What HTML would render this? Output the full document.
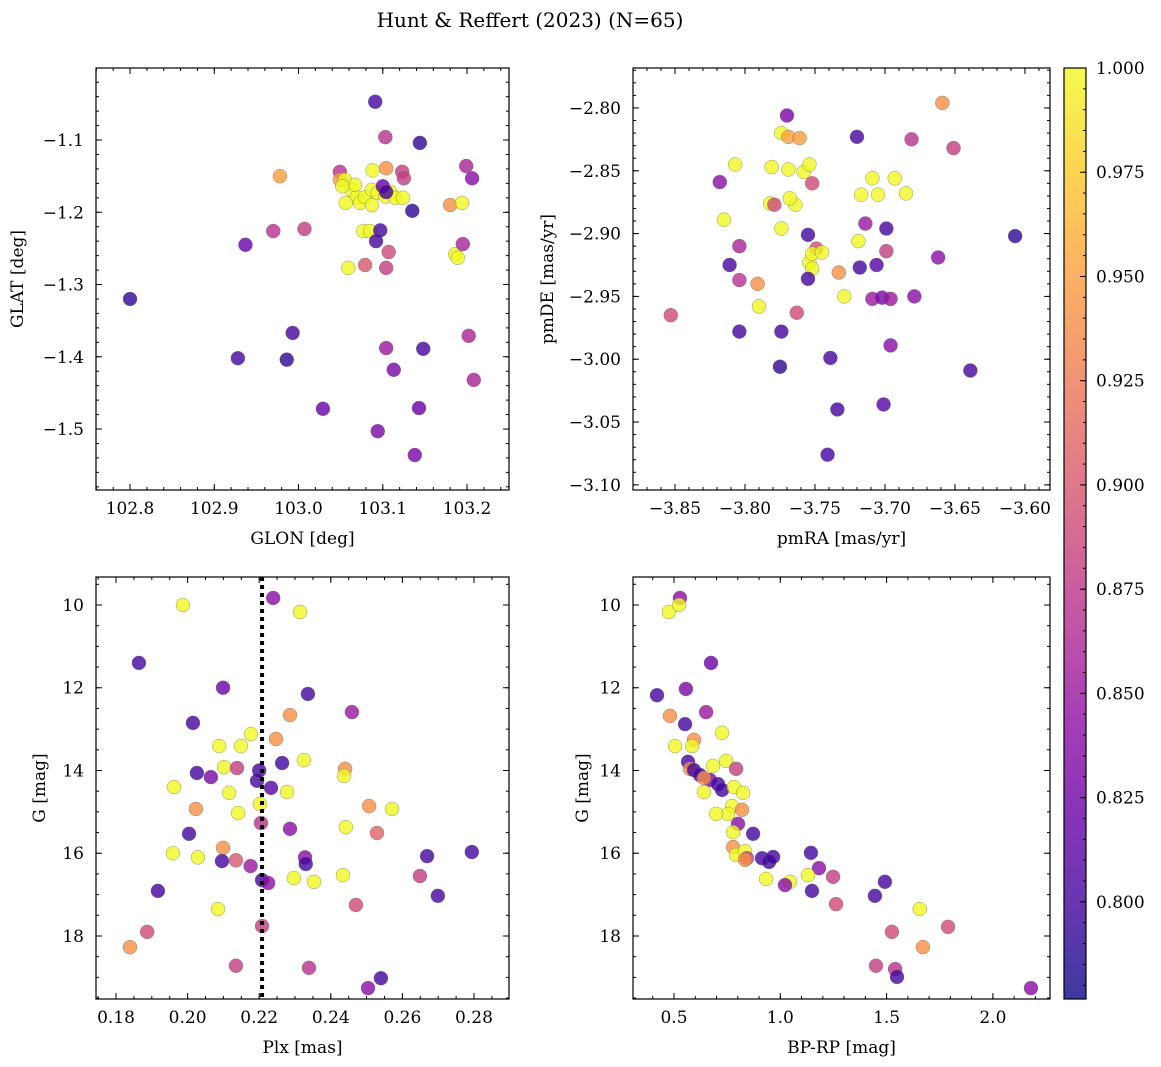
<!DOCTYPE html>
<html><head><meta charset="utf-8"><style>
body{margin:0;background:#fff}
svg{display:block;font-family:"DejaVu Serif","Liberation Serif",serif}
</style></head><body>
<svg id="fig" width="1161" height="1067" viewBox="0 0 1161 1067" xmlns="http://www.w3.org/2000/svg">
<defs>
<linearGradient id="plasmaGrad" x1="0" y1="1" x2="0" y2="0">
<stop offset="0" stop-color="#0d0887"/><stop offset="0.1" stop-color="#41049d"/><stop offset="0.2" stop-color="#6a00a8"/><stop offset="0.3" stop-color="#8f0da4"/><stop offset="0.4" stop-color="#b12a90"/><stop offset="0.5" stop-color="#cc4778"/><stop offset="0.6" stop-color="#e16462"/><stop offset="0.7" stop-color="#f2844b"/><stop offset="0.8" stop-color="#fca636"/><stop offset="0.9" stop-color="#fcce25"/><stop offset="1" stop-color="#f0f921"/>
</linearGradient>
</defs>
<text x="530" y="27" font-size="20" text-anchor="middle">Hunt &amp; Reffert (2023) (N=65)</text>
</svg>
<script>
// ---- data ----
const glon=[103.091,103.103,103.144,103.199,103.206,102.978,103.049,103.123,103.125,103.104,103.088,103.049,103.055,103.063,103.069,103.067,103.073,103.079,103.087,103.087,103.094,103.103,103.109,103.115,103.124,103.052,103.056,103.077,103.059,103.085,103.097,103.092,103.135,103.100,103.104,103.180,103.186,103.189,103.194,103.079,103.107,103.104,103.195,103.007,102.937,102.970,102.800,102.993,102.928,102.986,103.104,103.148,103.113,103.202,103.208,103.029,103.094,103.143,103.138];
const glat=[-1.047,-1.096,-1.104,-1.136,-1.153,-1.150,-1.144,-1.144,-1.153,-1.139,-1.142,-1.155,-1.155,-1.169,-1.179,-1.162,-1.187,-1.179,-1.169,-1.190,-1.173,-1.178,-1.172,-1.180,-1.180,-1.164,-1.187,-1.226,-1.277,-1.226,-1.225,-1.240,-1.198,-1.164,-1.172,-1.190,-1.258,-1.263,-1.187,-1.273,-1.255,-1.277,-1.244,-1.223,-1.245,-1.226,-1.320,-1.367,-1.402,-1.404,-1.388,-1.389,-1.418,-1.371,-1.432,-1.472,-1.503,-1.471,-1.536];
const probA=[.80,.87,.79,.86,.84,.95,.87,.88,.88,.94,1,.95,1,1,1,1,1,1,1,1,1,1,1,1,1,1,1,1,1,1,.80,.80,.79,.82,.80,.94,1,1,1,.90,.89,.88,.86,.88,.82,.87,.79,.80,.80,.79,.85,.80,.83,.86,.86,.82,.83,.82,.83];

const pmra=[-3.770,-3.659,-3.651,-3.681,-3.720,-3.774,-3.769,-3.761,-3.807,-3.781,-3.769,-3.758,-3.754,-3.752,-3.818,-3.709,-3.693,-3.685,-3.705,-3.717,-3.782,-3.779,-3.764,-3.768,-3.815,-3.774,-3.714,-3.699,-3.719,-3.804,-3.749,-3.699,-3.755,-3.607,-3.662,-3.754,-3.752,-3.745,-3.752,-3.811,-3.706,-3.718,-3.733,-3.791,-3.804,-3.755,-3.729,-3.709,-3.702,-3.696,-3.679,-3.790,-3.763,-3.853,-3.804,-3.774,-3.696,-3.739,-3.775,-3.639,-3.734,-3.701,-3.741];
const pmde=[-2.806,-2.796,-2.832,-2.825,-2.823,-2.820,-2.823,-2.824,-2.845,-2.847,-2.849,-2.851,-2.845,-2.860,-2.859,-2.856,-2.856,-2.868,-2.869,-2.869,-2.876,-2.877,-2.877,-2.872,-2.889,-2.896,-2.892,-2.896,-2.906,-2.910,-2.912,-2.914,-2.901,-2.902,-2.919,-2.923,-2.916,-2.915,-2.928,-2.925,-2.925,-2.927,-2.931,-2.940,-2.937,-2.936,-2.950,-2.952,-2.951,-2.952,-2.950,-2.958,-2.963,-2.965,-2.978,-2.978,-2.989,-2.999,-3.006,-3.009,-3.040,-3.036,-3.076];
const probB=[.83,.94,.88,.87,.80,1,.95,.95,1,1,1,1,1,.89,.84,1,1,1,1,1,1,.89,1,1,1,1,.85,.80,1,.86,.89,.88,.80,.79,.84,1,1,1,1,.80,.81,.80,.94,.94,.87,.80,1,.85,.83,.85,.84,1,.89,.89,.80,.80,.84,.80,.79,.80,.80,.81,.80];

const plx=[0.2239,0.1987,0.2314,0.1864,0.2099,0.2336,0.2015,0.2459,0.2286,0.2247,0.2177,0.2088,0.2149,0.2325,0.2264,0.2102,0.2138,0.2440,0.2437,0.2026,0.2065,0.1962,0.2194,0.2200,0.2233,0.2116,0.2278,0.2023,0.2202,0.2141,0.2507,0.2571,0.2205,0.2286,0.2442,0.2529,0.2004,0.2099,0.1959,0.2029,0.2328,0.2135,0.2096,0.2330,0.2794,0.2669,0.2176,0.2434,0.2208,0.2297,0.2353,0.2225,0.2649,0.1917,0.2085,0.2699,0.2470,0.1887,0.1839,0.2208,0.2135,0.2339,0.2540,0.2504];
const gmagA=[9.83,10.0,10.17,11.4,12.0,12.15,12.85,12.59,12.66,13.24,13.12,13.41,13.41,13.75,13.82,13.92,13.94,13.96,14.13,14.06,14.16,14.40,14.25,14.0,14.42,14.54,14.52,14.93,14.81,15.03,14.86,14.93,15.27,15.41,15.37,15.51,15.53,15.87,16.0,16.10,16.10,16.17,16.19,16.26,15.97,16.07,16.31,16.53,16.65,16.6,16.69,16.72,16.55,16.91,17.35,17.03,17.25,17.9,18.27,17.76,18.72,18.77,19.02,19.26];
const probC=[.84,1,1,.80,.82,.80,.80,.85,.94,.94,1,1,1,1,.80,1,.88,.94,1,.80,.83,1,.80,.80,.81,1,1,.94,1,1,.94,1,.87,.84,1,.91,.80,.94,1,1,.84,.90,.80,.80,.80,.80,.85,1,.80,1,1,.84,.88,.80,1,.80,.89,.89,.94,.88,.88,.87,.80,.84];
const plxLine=0.2208;

const bprp=[0.528,0.476,0.524,0.674,0.420,0.556,0.481,0.651,0.552,0.594,0.726,0.505,0.585,0.745,0.566,0.683,0.575,0.792,0.594,0.622,0.669,0.641,0.707,0.726,0.782,0.825,0.641,0.773,0.820,0.754,0.698,0.801,0.778,0.872,0.778,0.792,0.834,0.843,0.914,0.947,0.966,0.834,1.144,1.182,1.248,1.130,1.046,1.022,0.933,1.492,1.445,1.149,1.656,1.262,1.525,1.789,1.671,1.450,1.540,1.549,2.179];
const gmagB=[9.83,10.17,10.0,11.4,12.18,12.03,12.68,12.59,12.88,13.26,13.09,13.41,13.41,13.77,13.79,13.89,13.96,13.96,13.99,14.11,14.23,14.18,14.33,14.47,14.40,14.54,14.52,14.86,14.95,15.05,15.05,15.29,15.49,15.53,15.85,16.04,15.95,16.12,16.12,16.21,16.09,16.16,15.99,16.36,16.57,16.53,16.69,16.77,16.62,16.69,17.03,16.91,17.35,17.23,17.90,17.78,18.27,18.72,18.80,18.99,19.26];
const probD=[.84,1,1,.82,.80,.83,.94,.85,.80,.94,1,1,1,1,.80,1,.94,.88,.80,.80,.83,.94,.80,.80,1,1,1,1,.94,1,1,.84,1,.80,.94,1,1,.88,.80,.80,.80,.94,.80,.84,.88,1,1,.84,1,.80,.80,.80,1,.89,.89,.89,.94,.88,.87,.80,.84];

const cbTicks=[0.800,0.825,0.850,0.875,0.900,0.925,0.950,0.975,1.000];
const vmin=0.7767, vmax=1.0;

// ---- helpers ----
const NS="http://www.w3.org/2000/svg";
const svg=document.getElementById('fig');
function mk(tag,attrs,parent){const e=document.createElementNS(NS,tag);for(const k in attrs)e.setAttribute(k,attrs[k]);(parent||svg).appendChild(e);return e;}
const stops=[[13,8,135],[65,4,157],[106,0,168],[143,13,164],[177,42,144],[204,71,120],[225,100,98],[242,132,75],[252,166,54],[252,206,37],[240,249,33]];
function plasma(v){let t=(v-vmin)/(vmax-vmin);t=Math.max(0,Math.min(1,t))*10;const i=Math.min(9,Math.floor(t)),f=t-i;const a=stops[i],b=stops[i+1];return 'rgb('+a.map((c,k)=>Math.round(c+(b[k]-c)*f)).join(',')+')';}
function fmt(v,d){return v.toFixed(d).replace('-','\u2212');}

function panel(o){
  const sx=v=>o.x0+(v-o.xmin)/(o.xmax-o.xmin)*(o.x1-o.x0);
  const sy=o.invertY? v=>o.y0+(v-o.ymin)/(o.ymax-o.ymin)*(o.y1-o.y0) : v=>o.y1-(v-o.ymin)/(o.ymax-o.ymin)*(o.y1-o.y0);
  const g=mk('g',{});
  
  
  for(let i=0;i<o.xs.length;i++){
    const c=mk('circle',{cx:sx(o.xs[i]),cy:sy(o.ys[i]),r:7,fill:plasma(o.ps[i]),'fill-opacity':0.8,stroke:'#666','stroke-width':0.5,'stroke-opacity':0.7},g);
    
    
  }
  if(o.vline!==undefined){
    const l=mk('line',{x1:sx(o.vline),x2:sx(o.vline),y1:o.y0,y2:o.y1,stroke:'#000','stroke-width':4,'stroke-dasharray':'4,4'},g);
    
    
  }
  const fr=mk('rect',{x:o.x0,y:o.y0,width:o.x1-o.x0,height:o.y1-o.y0,fill:'none',stroke:'#000','stroke-width':1.2},g);
  
  
  function ticks(min,max,step){const a=[];const lo=Math.min(min,max),hi=Math.max(min,max);for(let k=Math.ceil(lo/step-1e-6);k*step<=hi+1e-9;k++)a.push(+(k*step).toFixed(6));return a;}
  ticks(o.xmin,o.xmax,o.xminor).forEach(v=>{const X=sx(v);mk('line',{x1:X,x2:X,y1:o.y1,y2:o.y1-3,stroke:'#000'},g);mk('line',{x1:X,x2:X,y1:o.y0,y2:o.y0+3,stroke:'#000'},g);});
  ticks(o.ymin,o.ymax,o.yminor).forEach(v=>{const Y=sy(v);mk('line',{x1:o.x0,x2:o.x0+3,y1:Y,y2:Y,stroke:'#000'},g);mk('line',{x1:o.x1,x2:o.x1-3,y1:Y,y2:Y,stroke:'#000'},g);});
  ticks(o.xmin,o.xmax,o.xmajor).forEach(v=>{const X=sx(v);mk('line',{x1:X,x2:X,y1:o.y1,y2:o.y1-6,stroke:'#000'},g);mk('line',{x1:X,x2:X,y1:o.y0,y2:o.y0+6,stroke:'#000'},g);
    const t=mk('text',{x:X,y:o.y1+24,'font-size':17,'text-anchor':'middle'},g);t.textContent=fmt(v,o.xdec);
    
    });
  ticks(o.ymin,o.ymax,o.ymajor).forEach(v=>{const Y=sy(v);mk('line',{x1:o.x0,x2:o.x0+6,y1:Y,y2:Y,stroke:'#000'},g);mk('line',{x1:o.x1,x2:o.x1-6,y1:Y,y2:Y,stroke:'#000'},g);
    const t=mk('text',{x:o.x0-12,y:Y+6,'font-size':17,'text-anchor':'end'},g);t.textContent=fmt(v,o.ydec);
    
    });
  const xl=mk('text',{x:(o.x0+o.x1)/2,y:o.y1+54,'font-size':17,'text-anchor':'middle'},g);xl.textContent=o.xlabel;
  
  
  const yx=o.ylabX, yy=(o.y0+o.y1)/2;
  const yl=mk('text',{x:yx,y:yy,'font-size':17,'text-anchor':'middle',transform:'rotate(-90 '+yx+' '+yy+')'},g);yl.textContent=o.ylabel;
  
  
}

panel({name:'glon-glat-panel',x0:96,x1:509,y0:68,y1:490,xmin:102.7596,xmax:103.2498,ymin:-1.5844,ymax:-1.0003,xmajor:0.1,xminor:0.02,ymajor:0.1,yminor:0.02,xdec:1,ydec:1,xs:glon,ys:glat,ps:probA,xlabel:'GLON [deg]',ylabel:'GLAT [deg]',ylabX:23});
panel({name:'proper-motion-panel',x0:633,x1:1050,y0:68,y1:490,xmin:-3.880,xmax:-3.5821,ymin:-3.1041,ymax:-2.7682,xmajor:0.05,xminor:0.01,ymajor:0.05,yminor:0.01,xdec:2,ydec:2,xs:pmra,ys:pmde,ps:probB,xlabel:'pmRA [mas/yr]',ylabel:'pmDE [mas/yr]',ylabX:553});
panel({name:'plx-g-panel',x0:96,x1:509,y0:577,y1:999,xmin:0.17441,xmax:0.28978,ymin:9.3233,ymax:19.523,invertY:true,xmajor:0.02,xminor:0.005,ymajor:2,yminor:0.5,xdec:2,ydec:0,xs:plx,ys:gmagA,ps:probC,vline:plxLine,xlabel:'Plx [mas]',ylabel:'G [mag]',ylabX:45});
panel({name:'cmd-panel',x0:633,x1:1050,y0:577,y1:999,xmin:0.3071,xmax:2.2686,ymin:9.3233,ymax:19.523,invertY:true,xmajor:0.5,xminor:0.1,ymajor:2,yminor:0.5,xdec:1,ydec:0,xs:bprp,ys:gmagB,ps:probD,xlabel:'BP-RP [mag]',ylabel:'G [mag]',ylabX:588});

// colorbar
const cb=mk('g',{});


const cbx0=1064,cbx1=1086,cby0=68,cby1=999;
mk('rect',{x:cbx0,y:cby0,width:cbx1-cbx0,height:cby1-cby0,fill:'url(#plasmaGrad)','fill-opacity':0.8},cb);
mk('rect',{x:cbx0,y:cby0,width:cbx1-cbx0,height:cby1-cby0,fill:'none',stroke:'#000','stroke-width':1.2},cb);
const cy=v=>cby1-(v-vmin)/(vmax-vmin)*(cby1-cby0);
for(let k=Math.ceil(vmin/0.005);k*0.005<=vmax+1e-9;k++){const Y=cy(k*0.005);mk('line',{x1:cbx1,x2:cbx1-3,y1:Y,y2:Y,stroke:'#000'},cb);}
cbTicks.forEach(v=>{const Y=cy(v);mk('line',{x1:cbx1,x2:cbx1-6,y1:Y,y2:Y,stroke:'#000'},cb);
  const t=mk('text',{x:cbx1+10,y:Y+6,'font-size':17},cb);t.textContent=v.toFixed(3);
  
  });
</script>
</body></html>
